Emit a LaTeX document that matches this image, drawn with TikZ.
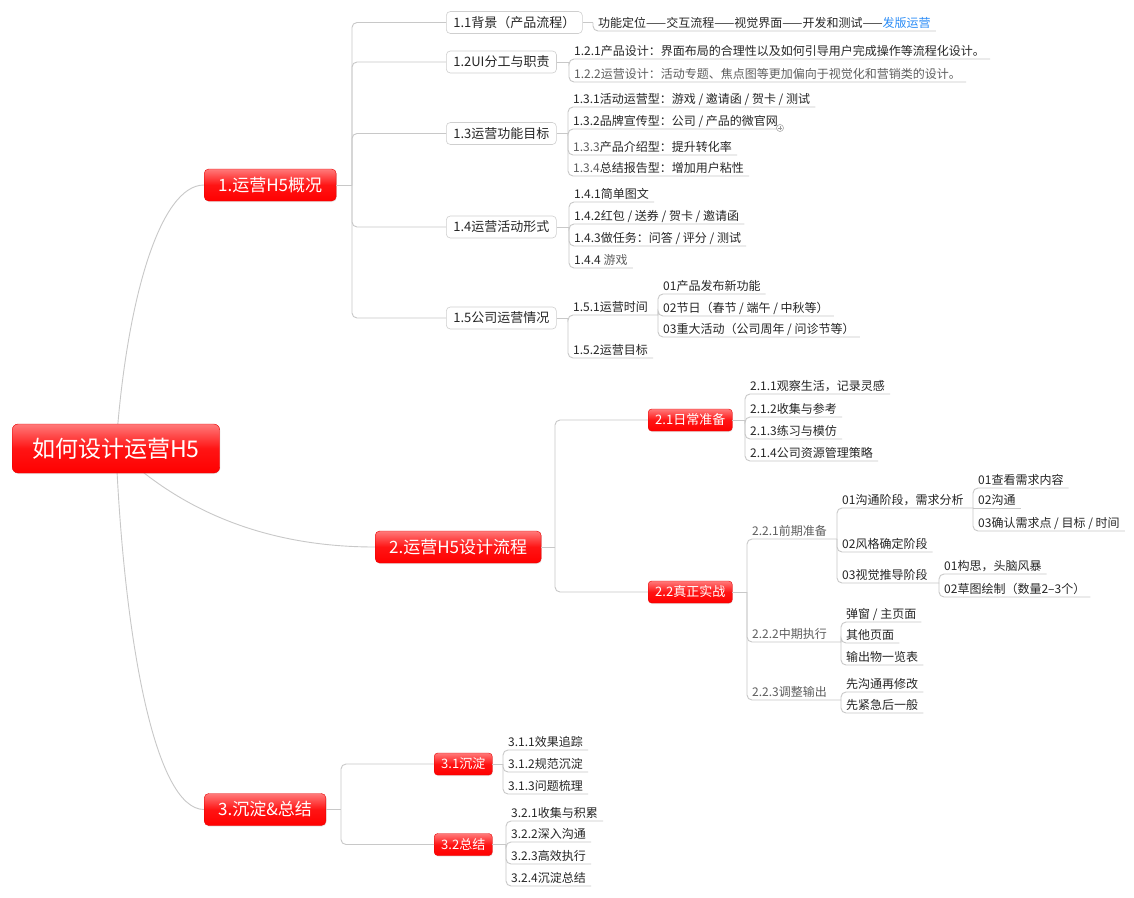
\documentclass[tikz,border=0pt]{standalone}
\usepackage{fontspec}
\setmainfont{Noto Sans CJK SC}
\usetikzlibrary{shadows,backgrounds}
\definecolor{conncol}{HTML}{C8C8C8}
\definecolor{boxborder}{HTML}{CFCFCF}
\definecolor{textcol}{HTML}{262626}
\definecolor{soft}{HTML}{5E5E5E}
\definecolor{linkblue}{HTML}{2A8CF7}
\definecolor{redtop}{HTML}{FF7A7A}
\definecolor{redmid}{HTML}{FF1414}
\definecolor{redbot}{HTML}{FF0000}
\definecolor{redborder}{HTML}{E80000}
\definecolor{plusgray}{HTML}{9A9A9A}
\begin{document}
\begin{tikzpicture}[x=1pt,y=-1pt,
  conn/.style={draw=conncol, line width=0.9pt, rounded corners=5pt},
  redbox/.style={rounded corners=4pt, top color=redtop, bottom color=redbot, middle color=redmid,
    draw=redborder, line width=0.4pt, text=white, inner ysep=0pt,
    drop shadow={opacity=0.18, shadow xshift=0.6pt, shadow yshift=-1pt}},
  rootbox/.style={redbox, rounded corners=6pt, font=\fontsize{23}{26}\selectfont,
    inner xsep=20pt, minimum height=49pt, text height=19.5pt, text depth=2.5pt, anchor=west},
  mainbox/.style={redbox, rounded corners=4.5pt, font=\fontsize{17}{20}\selectfont,
    inner xsep=14pt, minimum height=32pt, text height=14.5pt, text depth=2pt, anchor=west},
  redsub/.style={redbox, rounded corners=3.5pt, font=\fontsize{13}{15}\selectfont,
    inner xsep=7pt, minimum height=22pt, text height=11pt, text depth=1.6pt, anchor=west},
  subbox/.style={draw=boxborder, fill=white, line width=0.6pt, rounded corners=4pt,
    font=\fontsize{13}{15}\selectfont, text=textcol, inner xsep=7pt, inner ysep=0pt,
    minimum height=22pt, text height=11pt, text depth=1.6pt, anchor=west},
  leaf/.style={anchor=south west, font=\fontsize{12}{14}\selectfont, text=textcol,
    inner xsep=5pt, inner ysep=2pt, text height=10.2pt, text depth=1.44pt}
]
\useasboundingbox (0,0) rectangle (1134,897);

% ---------- main nodes ----------
\node[rootbox] (root) at (12,448.5) {如何设计运营H5};
\node[mainbox] (m1) at (204,185) {1.运营H5概况};
\node[mainbox] (m2) at (375,547) {2.运营H5设计流程};
\node[mainbox] (m3) at (204,809.5) {3.沉淀\&总结};

\begin{scope}[on background layer]
  \fill[white] (0,0) rectangle (1134,897);
  \draw[conn] (root.center) .. controls (126,300) and (160,185) .. (m1.west);
  \draw[conn] (root.center) .. controls (195,525) and (290,547) .. (m2.west);
  \draw[conn] (root.center) .. controls (124,640) and (155,809.5) .. (m3.west);
\end{scope}

% ---------- level 2 ----------
\node[subbox] (c11) at (446,22.5) {1.1背景（产品流程）};
\node[subbox] (c12) at (446,62) {1.2UI分工与职责};
\node[subbox] (c13) at (446,133.5) {1.3运营功能目标};
\node[subbox] (c14) at (446,227) {1.4运营活动形式};
\node[subbox] (c15) at (446,318) {1.5公司运营情况};

\node[redsub] (s21) at (648,420) {2.1日常准备};
\node[redsub] (s22) at (648,592) {2.2真正实战};
\node[redsub] (s31) at (434,764) {3.1沉淀};
\node[redsub] (s32) at (434,844.5) {3.2总结};

% trunk points
\coordinate (t1) at (352,185);
\coordinate (t2) at (555,547);
\coordinate (t3) at (341,809.5);
\coordinate (t11) at (593,22.5);
\coordinate (t12) at (569,62);
\coordinate (t13) at (568,133.5);
\coordinate (t14) at (569,227);
\coordinate (t15) at (568,318);
\coordinate (t151) at (658,315);
\coordinate (t21) at (745,420);
\coordinate (t22) at (747,592);
\coordinate (t221) at (837,539);
\coordinate (t2211) at (973,508);
\coordinate (t2213) at (939,583);
\coordinate (t222) at (841,642);
\coordinate (t223) at (841,700);
\coordinate (t31) at (503,764);
\coordinate (t32) at (506,844.5);

\draw[conn] (m1.east) -- (t1);
\foreach \c in {c11,c12,c13,c14,c15} \draw[conn] (t1) |- (\c.west);
\draw[conn] (m2.east) -- (t2);
\draw[conn] (t2) |- (s21.west);
\draw[conn] (t2) |- (s22.west);
\draw[conn] (m3.east) -- (t3);
\draw[conn] (t3) |- (s31.west);
\draw[conn] (t3) |- (s32.west);

% ---------- 1.x leaves ----------
\node[leaf] (l111) at (593,31) {功能定位——交互流程——视觉界面——开发和测试——\textcolor{linkblue}{发版运营}};
\draw[conn] (c11.east) -- (t11);
\draw[conn] (t11) |- (l111.south east);

\node[leaf] (l121) at (569,59) {1.2.1产品设计：界面布局的合理性以及如何引导用户完成操作等流程化设计。};
\node[leaf, text=soft] (l122) at (569,82) {1.2.2运营设计：活动专题、焦点图等更加偏向于视觉化和营销类的设计。};
\draw[conn] (c12.east) -- (t12);
\foreach \l in {l121,l122} \draw[conn] (t12) |- (\l.south east);

\node[leaf] (l131) at (568,107) {1.3.1活动运营型：游戏 / 邀请函 / 贺卡 / 测试};
\node[leaf] (l132) at (568,129) {1.3.2品牌宣传型：公司 / 产品的微官网};
\node[leaf] (l133) at (568,155) {\textcolor{soft}{1.3.3}产品介绍型：提升转化率};
\node[leaf] (l134) at (568,176) {\textcolor{soft}{1.3.4}总结报告型：增加用户粘性};
\draw[conn] (c13.east) -- (t13);
\foreach \l in {l131,l132,l133,l134} \draw[conn] (t13) |- (\l.south east);
\node[circle, draw=plusgray, fill=white, line width=0.5pt, minimum size=7pt, inner sep=0pt] (plus) at (780,128) {};
\draw[plusgray, line width=0.6pt] ([xshift=-2pt]plus.center) -- ([xshift=2pt]plus.center)
  ([yshift=-2pt]plus.center) -- ([yshift=2pt]plus.center);

\node[leaf] (l141) at (569,202) {1.4.1简单图文};
\node[leaf] (l142) at (569,224) {1.4.2红包 / 送券 / 贺卡 / 邀请函};
\node[leaf] (l143) at (569,246) {1.4.3做任务：问答 / 评分 / 测试};
\node[leaf] (l144) at (569,268) {1.4.4 \textcolor{soft}{游戏}};
\draw[conn] (c14.east) -- (t14);
\foreach \l in {l141,l142,l143,l144} \draw[conn] (t14) |- (\l.south east);

\node[leaf] (l151) at (568,315) {1.5.1运营时间};
\node[leaf] (l152) at (568,358) {1.5.2运营目标};
\draw[conn] (c15.east) -- (t15);
\draw[conn] (t15) |- (l151.south east) -- (t151);
\draw[conn] (t15) |- (l152.south east);
\node[leaf] (l1511) at (658,294) {01产品发布新功能};
\node[leaf] (l1512) at (658,316) {02节日（春节 / 端午 / 中秋等）};
\node[leaf] (l1513) at (658,337) {03重大活动（公司周年 / 问诊节等）};
\foreach \l in {l1511,l1512,l1513} \draw[conn] (t151) |- (\l.south east);

% ---------- 2.x leaves ----------
\node[leaf] (l211) at (745,394) {2.1.1观察生活，记录灵感};
\node[leaf] (l212) at (745,417) {2.1.2收集与参考};
\node[leaf] (l213) at (745,439) {2.1.3练习与模仿};
\node[leaf] (l214) at (745,461) {2.1.4公司资源管理策略};
\draw[conn] (s21.east) -- (t21);
\foreach \l in {l211,l212,l213,l214} \draw[conn] (t21) |- (\l.south east);

\node[leaf, text=soft] (l221) at (747,539) {2.2.1前期准备};
\node[leaf, text=soft] (l222) at (747,642) {2.2.2中期执行};
\node[leaf, text=soft] (l223) at (747,700) {2.2.3调整输出};
\draw[conn] (s22.east) -- (t22);
\draw[conn] (t22) |- (l221.south east) -- (t221);
\draw[conn] (t22) |- (l222.south east) -- (t222);
\draw[conn] (t22) |- (l223.south east) -- (t223);

\node[leaf] (l2211) at (837,508) {01沟通阶段，需求分析};
\node[leaf] (l2212) at (837,552) {02风格确定阶段};
\node[leaf] (l2213) at (837,583) {03视觉推导阶段};
\draw[conn] (t221) |- (l2211.south east) -- (t2211);
\draw[conn] (t221) |- (l2212.south east);
\draw[conn] (t221) |- (l2213.south east) -- (t2213);

\node[leaf] (l22111) at (973,488) {01查看需求内容};
\node[leaf] (l22112) at (973,508) {02沟通};
\node[leaf] (l22113) at (973,531) {03确认需求点 / 目标 / 时间};
\draw[conn] (t2211) |- (l22111.south east);
\draw[conn] (t2211) -- (l22112.south east);
\draw[conn] (t2211) |- (l22113.south east);

\node[leaf] (l22131) at (939,574) {01构思，头脑风暴};
\node[leaf] (l22132) at (939,597) {02草图绘制（数量2–3个）};
\foreach \l in {l22131,l22132} \draw[conn] (t2213) |- (\l.south east);

\node[leaf] (l2221) at (841,622) {弹窗 / 主页面};
\node[leaf] (l2222) at (841,643) {其他页面};
\node[leaf] (l2223) at (841,665) {输出物一览表};
\foreach \l in {l2221,l2222,l2223} \draw[conn] (t222) |- (\l.south east);

\node[leaf] (l2231) at (841,692) {先沟通再修改};
\node[leaf] (l2232) at (841,713) {先紧急后一般};
\foreach \l in {l2231,l2232} \draw[conn] (t223) |- (\l.south east);

% ---------- 3.x leaves ----------
\node[leaf] (l311) at (503,750) {3.1.1效果追踪};
\node[leaf] (l312) at (503,772) {3.1.2规范沉淀};
\node[leaf] (l313) at (503,794) {3.1.3问题梳理};
\draw[conn] (s31.east) -- (t31);
\foreach \l in {l311,l312,l313} \draw[conn] (t31) |- (\l.south east);

\node[leaf] (l321) at (506,821) {3.2.1收集与积累};
\node[leaf] (l322) at (506,842) {3.2.2深入沟通};
\node[leaf] (l323) at (506,864) {3.2.3高效执行};
\node[leaf] (l324) at (506,886) {3.2.4沉淀总结};
\draw[conn] (s32.east) -- (t32);
\foreach \l in {l321,l322,l323,l324} \draw[conn] (t32) |- (\l.south east);
\end{tikzpicture}
\end{document}
